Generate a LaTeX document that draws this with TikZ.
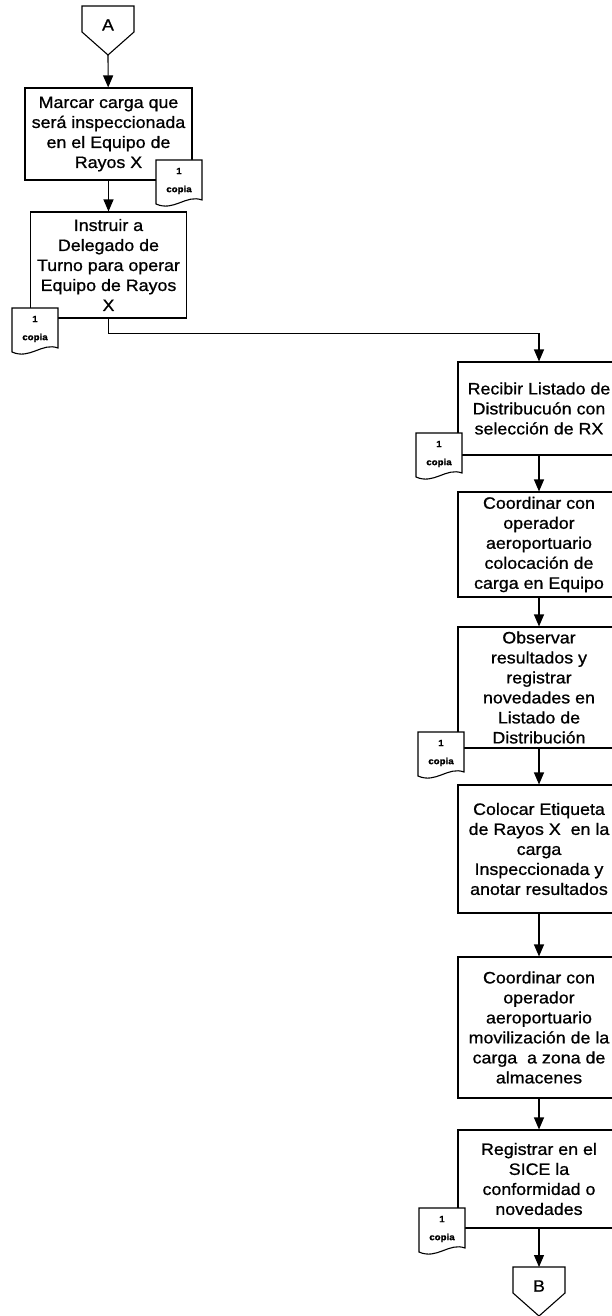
\documentclass[tikz,border=0pt]{standalone}
\usepackage{fontspec}
\setmainfont{Liberation Sans}[FakeStretch=1.08,FakeBold=0.9]
\usetikzlibrary{arrows.meta}

\newcommand\taskfont{\fontsize{16.5}{20}\selectfont}
\newlength\copyW
\setlength\copyW{46pt}
\newlength\copyH
\setlength\copyH{40pt}
\newcommand\drawCopy[2]{
  \draw[line width=1.1pt,fill=white] (#2) -- ++(\copyW,0) -- ++(0,-\copyH)
    .. controls +(-16pt,6pt) and +(18pt,-8pt) .. ++(-\copyW,-4pt) -- cycle;
  \path (#2) ++(0.5\copyW,-21pt) node[copytext] (#1) {1\\copia};
}
\newcommand\drawConnector[3]{
  \draw[line width=1.1pt] (#2) ++(-26,0) -- ++(52,0) -- ++(0,-26) -- ++(-26,-23)
    coordinate (#1tip) -- ++(-26,23) -- cycle;
  \coordinate (#1top) at (#2);
  \path (#2) ++(0,-19) node[font=\taskfont,inner sep=0pt] (#1) {#3};
}

\begin{document}
\begin{tikzpicture}[x=1pt,y=1pt,
    task/.style={draw,line width=1.1pt,inner sep=0pt,align=center,font=\taskfont},
    copytext/.style={align=center,inner sep=0pt,font=\fontsize{9}{18}\selectfont\bfseries},
    flow/.style={line width=1.1pt,-{Triangle[width=10pt,length=12pt]}}]
  \useasboundingbox (0,0) rectangle (611,-1316);

  % left column
  \drawConnector{A}{108,-6}{A}
  \node[task,minimum width=167,minimum height=92] (marcar) at (108.5,-134)
    {Marcar carga que\\será inspeccionada\\en el Equipo de\\Rayos X};
  \node[task,minimum width=156,minimum height=106] (instruir) at (108.5,-265)
    {Instruir a\\Delegado de\\Turno para operar\\Equipo de Rayos\\X};

  % right column
  \node[task,minimum width=162,minimum height=93] (recibir) at (539,-408.5)
    {Recibir Listado de\\Distribucuón con\\selección de RX};
  \node[task,minimum width=162,minimum height=105] (colocacion) at (539,-544.5)
    {Coordinar con\\operador\\aeroportuario\\colocación de\\carga en Equipo};
  \node[task,minimum width=162,minimum height=121] (observar) at (539,-687.5)
    {Observar\\resultados y\\registrar\\novedades en\\Listado de\\Distribución};
  \node[task,minimum width=162,minimum height=128] (etiqueta) at (539,-849)
    {Colocar Etiqueta\\de Rayos X~ en la\\carga\\Inspeccionada y\\anotar resultados};
  \node[task,minimum width=162,minimum height=141] (movilizar) at (539,-1027.5)
    {Coordinar con\\operador\\aeroportuario\\movilización de la\\carga~ a zona de\\almacenes};
  \node[task,minimum width=162,minimum height=98] (registrar) at (539,-1179)
    {Registrar en el\\SICE la\\conformidad o\\novedades};
  \drawConnector{B}{539,-1267}{B}

  % connectors
  \draw[flow] (Atip) -- (marcar);
  \draw[flow] (marcar) -- (instruir);
  \draw[flow] (instruir.south) -- ++(0,-15) -| (recibir.north);
  \draw[flow] (recibir) -- (colocacion);
  \draw[flow] (colocacion) -- (observar);
  \draw[flow] (observar) -- (etiqueta);
  \draw[flow] (etiqueta) -- (movilizar);
  \draw[flow] (movilizar) -- (registrar);
  \draw[flow] (registrar) -- (Btop);

  % copies
  \drawCopy{copyMarcar}{156,-160}
  \drawCopy{copyInstruir}{12,-308}
  \drawCopy{copyRecibir}{416,-433}
  \drawCopy{copyObservar}{418,-732}
  \drawCopy{copyRegistrar}{419,-1208}
\end{tikzpicture}
\end{document}
